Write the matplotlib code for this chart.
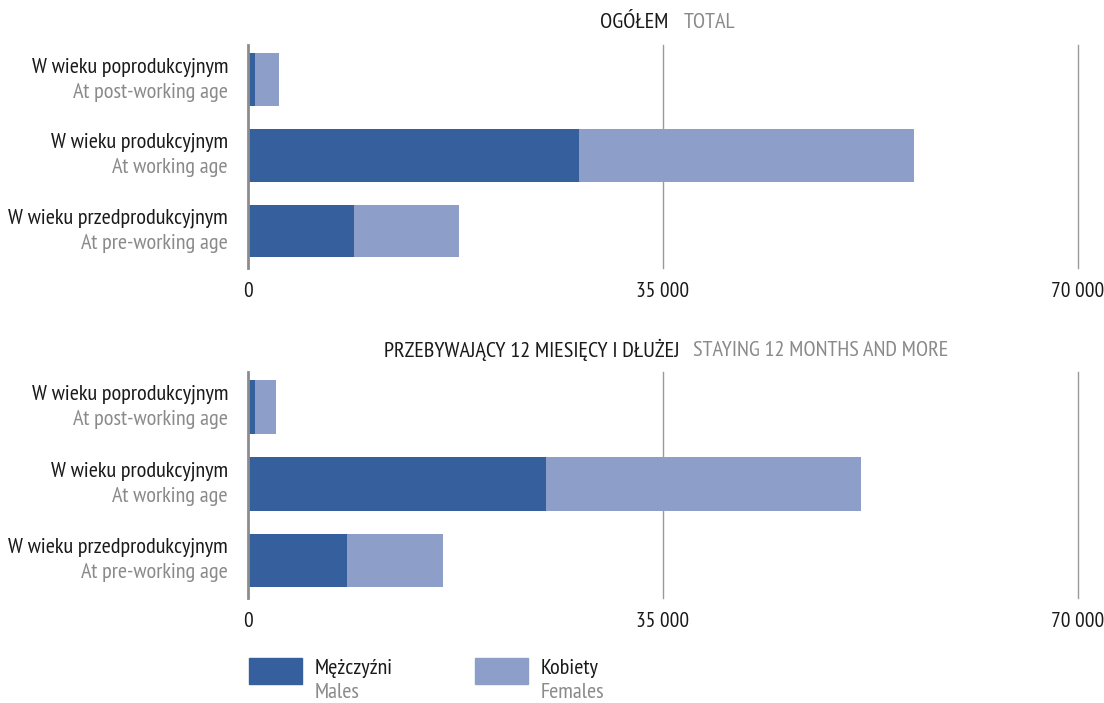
import matplotlib
matplotlib.use("Agg")
import matplotlib.pyplot as plt
from matplotlib import font_manager
from matplotlib.patches import Rectangle

names = {f.name for f in font_manager.fontManager.ttflist}
FONT = "DejaVu Sans"
for cand in ["PT Sans Narrow", "Roboto Condensed", "Fira Sans Condensed", "Barlow Semi Condensed", "Archivo Narrow"]:
    if cand in names:
        FONT = cand
        break
plt.rcParams["font.family"] = [FONT, "DejaVu Sans"]

# ---- data ----
categories_pl = ["W wieku przedprodukcyjnym", "W wieku produkcyjnym", "W wieku poprodukcyjnym"]
categories_en = ["At pre-working age", "At working age", "At post-working age"]

total_males = [8930, 27880, 590]
total_females = [8840, 28300, 2020]

long_males = [8340, 25100, 590]
long_females = [8090, 26620, 1770]

xticks = [0, 35000, 70000]
xtick_labels = ["0", "35 000", "70 000"]

titles = [("OGÓŁEM", "TOTAL"), ("PRZEBYWAJĄCY 12 MIESIĘCY I DŁUŻEJ", "STAYING 12 MONTHS AND MORE")]
legend_pl = ["Mężczyźni", "Kobiety"]
legend_en = ["Males", "Females"]

C_MALE = "#365f9e"
C_FEMALE = "#8d9fc9"
DARK = "#1a1a1a"
GREY = "#8a8a8a"
FS = 16

W, H = 1104, 703
fig = plt.figure(figsize=(W / 100, H / 100), dpi=100)

def fx(px):
    return px / W

def fy(py):
    return 1 - py / H

def panel(bottom_px, top_px, males, females):
    ax = fig.add_axes([fx(248), fy(bottom_px), fx(1078) - fx(248), (bottom_px - top_px) / H])
    y = list(range(len(categories_pl)))
    ax.barh(y, males, height=0.7, color=C_MALE, zorder=3)
    ax.barh(y, females, left=males, height=0.7, color=C_FEMALE, zorder=3)
    ax.set_xlim(0, 70000)
    ax.set_ylim(-0.49, 2.46)
    for s in ax.spines.values():
        s.set_visible(False)
    ax.set_yticks([])
    ax.set_xticks(xticks)
    ax.set_xticklabels(xtick_labels, fontsize=15.5, color=DARK)
    ax.tick_params(axis="x", length=0, pad=10)
    ax.axvline(0, color="#8c8c8c", lw=2.0, zorder=4, clip_on=False)
    for xv in xticks[1:]:
        ax.axvline(xv, color="#9a9a9a", lw=1.0, zorder=1, clip_on=False)
    for yi in y:
        ax.annotate(categories_pl[yi], xy=(0, yi), xycoords=("axes fraction", "data"),
                    xytext=(-20, 3), textcoords="offset pixels", ha="right", va="bottom",
                    fontsize=FS, color=DARK)
        ax.annotate(categories_en[yi], xy=(0, yi), xycoords=("axes fraction", "data"),
                    xytext=(-20, -3), textcoords="offset pixels", ha="right", va="top",
                    fontsize=FS, color=GREY)
    return ax

panel(268, 45, total_males, total_females)
panel(598, 372, long_males, long_females)

# titles
fig.text(fx(668), fy(22), titles[0][0], ha="right", va="center", fontsize=FS, color=DARK)
fig.text(fx(684), fy(22), titles[0][1], ha="left", va="center", fontsize=FS, color=GREY)
fig.text(fx(680), fy(350), titles[1][0], ha="right", va="center", fontsize=FS, color=DARK)
fig.text(fx(693), fy(350), titles[1][1], ha="left", va="center", fontsize=FS, color=GREY)

# legend
for i, (x0, col) in enumerate([(249, C_MALE), (475, C_FEMALE)]):
    fig.patches.append(Rectangle((fx(x0), fy(684)), fx(53), 26 / H, transform=fig.transFigure,
                                 color=col, figure=fig))
    fig.text(fx(x0 + 66), fy(669), legend_pl[i], ha="left", va="center", fontsize=FS, color=DARK)
    fig.text(fx(x0 + 66), fy(693), legend_en[i], ha="left", va="center", fontsize=FS, color=GREY)

fig.savefig("out.png", dpi=100)
